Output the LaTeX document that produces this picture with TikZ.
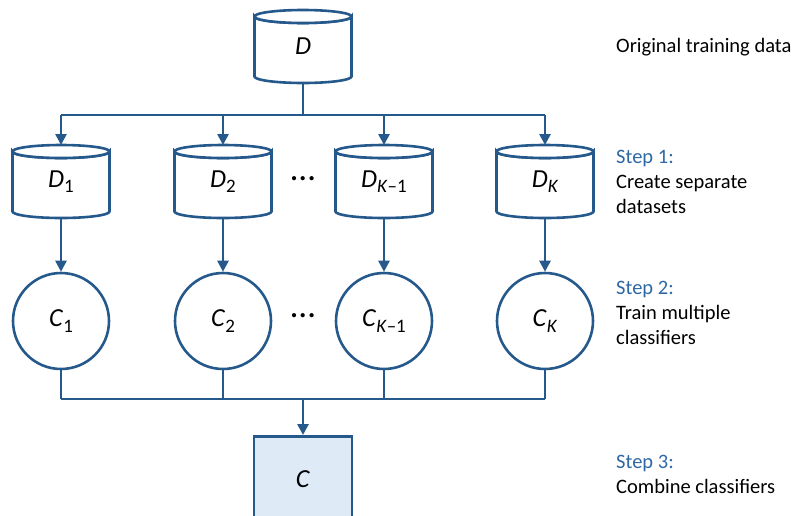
\documentclass[tikz,border=0pt]{standalone}
\usepackage{fontspec}
\setmainfont{Carlito}
\usetikzlibrary{arrows.meta}

\definecolor{flow}{RGB}{37,89,140}
\definecolor{steptext}{RGB}{46,104,164}
\definecolor{boxfill}{RGB}{222,235,247}

% italic letter with a lowered, smaller index
\newcommand\symidx[2]{\textit{#1}\raisebox{-0.2em}{\fontsize{19}{19}\selectfont #2}}

\tikzset{
  conn/.style={draw=flow, line width=2.6pt},
  arr/.style={conn, -{Triangle[length=11pt,width=11pt]}},
  cylbody/.style={draw=flow, line width=2.6pt, fill=white},
  slot/.style={draw=none, inner sep=0pt, minimum width=97pt, minimum height=73pt,
               font=\fontsize{26}{26}\selectfont},
  clf/.style={circle, draw=flow, line width=2.6pt, minimum size=96pt, inner sep=0pt,
              font=\fontsize{26}{26}\selectfont},
  combo/.style={draw=flow, line width=2.6pt, fill=boxfill, minimum width=98pt,
                minimum height=86pt, inner sep=0pt, font=\fontsize{26}{26}\selectfont},
  dotsep/.style={font=\fontsize{35}{35}\selectfont, inner sep=0pt},
  note/.style={anchor=base west, align=left, inner sep=0pt,
               font=\fontsize{20.5}{25}\selectfont},
}

% cylinder drawn round a named slot node: #1 name, #2 x, #3 top y, #4 label
\newcommand\dbcyl[4]{%
  \path[cylbody] (#2-48.5,#3+6.5) -- (#2-48.5,#3+66.5)
     arc[start angle=180, end angle=360, x radius=48.5pt, y radius=6.5pt]
     -- (#2+48.5,#3+6.5)
     arc[start angle=0, end angle=-180, x radius=48.5pt, y radius=6.5pt] -- cycle;
  \draw[cylbody] (#2,#3+6.5) ellipse[x radius=48.5pt, y radius=6.5pt];
  \node[slot] (#1) at (#2,#3+36.5) {#4};
}

\begin{document}
\begin{tikzpicture}[x=1pt, y=-1pt]
  \useasboundingbox (0,0) rectangle (794,515);
  \clip (0,0) rectangle (794,515);

  % source data set
  \dbcyl{D}{303}{10}{\textit{D}}

  % separate data sets
  \dbcyl{D1}{61}{145}{\symidx{D}{1}}
  \dbcyl{D2}{223}{145}{\symidx{D}{2}}
  \dbcyl{DK1}{384}{145}{\symidx{D}{\textit{K}–1}}
  \dbcyl{DK}{545}{145}{\symidx{D}{\textit{K}}}
  \node[dotsep] (dotsA) at (303,179) {…};

  % classifiers
  \node[clf] (C1)  at (61,321)  {\symidx{C}{1}};
  \node[clf] (C2)  at (223,321) {\symidx{C}{2}};
  \node[clf] (CK1) at (384,321) {\symidx{C}{\textit{K}–1}};
  \node[clf] (CK)  at (545,321) {\symidx{C}{\textit{K}}};
  \node[dotsep] (dotsB) at (303,316) {…};

  % combined classifier
  \node[combo, anchor=north] (C) at (303,435) {\textit{C}};

  % split
  \coordinate (split) at (303,115);
  \draw[conn] (D.south |- 0,83) -- (split);
  \draw[conn] (61,115) -- (545,115);
  \foreach \n/\x in {D1/61, D2/223, DK1/384, DK/545}
    \draw[arr] (\x,115) -- (\x,145);

  % data set to classifier
  \foreach \d/\c/\x in {D1/C1/61, D2/C2/223, DK1/CK1/384, DK/CK/545}
    \draw[arr] (\x,219) -- (\c.north);

  % merge
  \coordinate (merge) at (303,399);
  \foreach \c in {C1, C2, CK1, CK}
    \draw[conn] (\c.south) -- (\c.south |- merge);
  \draw[conn] (C1.south |- merge) -- (CK.south |- merge);
  \draw[arr] (merge) -- (C.north);

  % step descriptions (anchored at the baseline of the last line)
  \node[note] (orig) at (616,52) {Original training data};
  \node[note] (s1) at (616,213) {\textcolor{steptext}{Step 1:}\\Create separate\\datasets};
  \node[note] (s2) at (616,344) {\textcolor{steptext}{Step 2:}\\Train multiple\\classifiers};
  \node[note] (s3) at (616,493) {\textcolor{steptext}{Step 3:}\\Combine classifiers};
\end{tikzpicture}
\end{document}
